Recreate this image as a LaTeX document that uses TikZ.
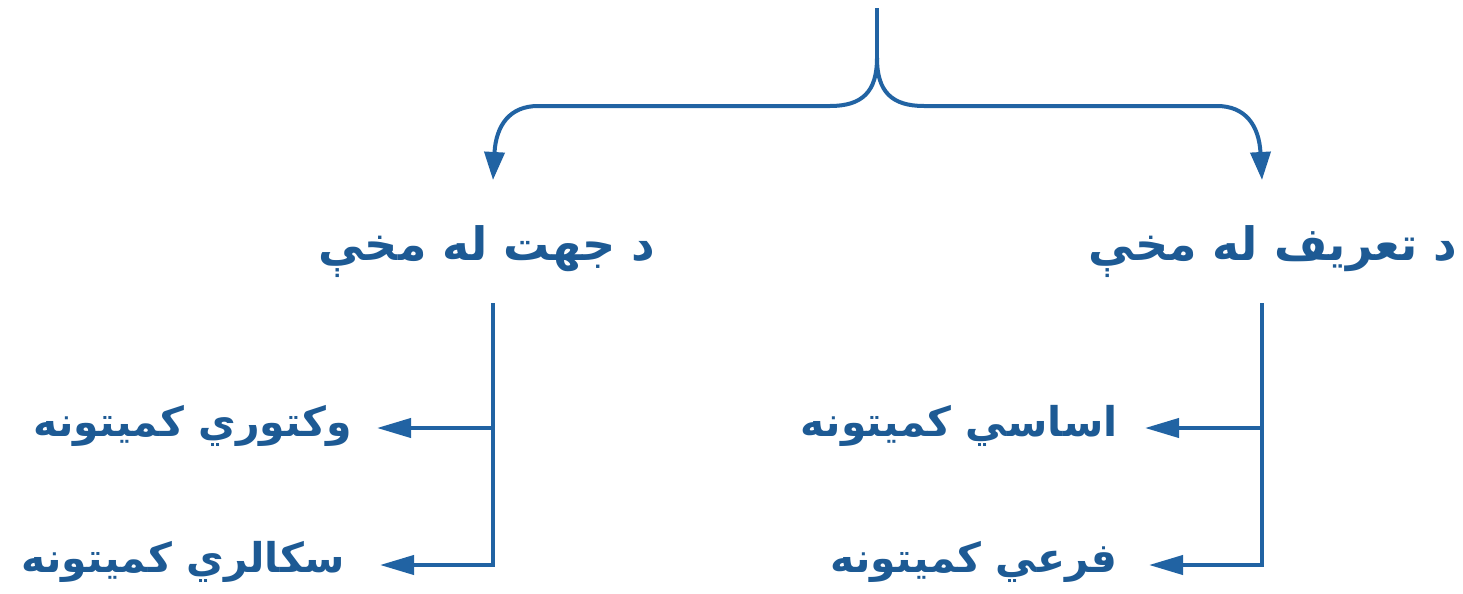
\documentclass[tikz,border=0pt]{standalone}
\usepackage{fontspec}
\usetikzlibrary{arrows.meta}
\TeXXeTstate=1
\newfontfamily\arabicfont[Script=Arabic]{DejaVu Sans}
\definecolor{inkblue}{HTML}{1D5A94}
\definecolor{lineblue}{HTML}{2163A3}
\tikzset{
  heading/.style={font=\arabicfont\bfseries\fontsize{23}{28}\selectfont, text=inkblue, inner sep=0pt},
  item/.style={font=\arabicfont\bfseries\fontsize{20.5}{24}\selectfont, text=inkblue, inner sep=0pt, anchor=east},
  wire/.style={draw=lineblue, line width=2pt},
  bigtip/.style={wire, -{Triangle[length=14pt,width=10pt]}},
  smalltip/.style={wire, -{Triangle[length=17pt,width=9.5pt]}},
}
\begin{document}
\begin{tikzpicture}[x=0.5pt,y=-0.5pt]
  \useasboundingbox (0,0) rectangle (1463,594);
  \fill[white] (0,0) rectangle (1463,594);

  % stem of the brace and its fork point
  \coordinate (stem) at (877,8);
  \coordinate (fork) at (877,58);

  % the two headings
  \node[heading] (dir) at (487,252) {\beginR د جهت له مخې\endR};
  \node[heading, anchor=east] (def) at (1458,252) {\beginR د تعریف له مخې\endR};

  % arrow tips under the brace
  \coordinate (dirtop) at (493,180);
  \coordinate (deftop) at (1262,180);

  % brace
  \draw[wire] (stem) -- (fork);
  \draw[bigtip] (fork) .. controls (877,92) and (862,106) .. (830,106)
     -- (538,106) .. controls (510,106) and (496,125) .. (dirtop);
  \draw[bigtip] (fork) .. controls (877,92) and (892,106) .. (924,106)
     -- (1217,106) .. controls (1245,106) and (1259,125) .. (deftop);

  % branch spines and the joints on them
  \coordinate (dtop) at (493,303);
  \coordinate (dmid) at (493,428);
  \coordinate (dbot) at (493,565);
  \coordinate (ttop) at (1262,303);
  \coordinate (tmid) at (1262,428);
  \coordinate (tbot) at (1262,565);

  % leaf items
  \node[item] (vec) at (352,426) {\beginR وکتوري کمیتونه\endR};
  \node[item] (sca) at (345,562) {\beginR سکالري کمیتونه\endR};
  \node[item] (bas) at (1118,426) {\beginR اساسي کمیتونه\endR};
  \node[item] (der) at (1118,562) {\beginR فرعي کمیتونه\endR};

  % free ends of the branch arrows, just right of each item
  \coordinate (vectip) at (377,428);
  \coordinate (scatip) at (380,565);
  \coordinate (bastip) at (1145,428);
  \coordinate (dertip) at (1149,565);

  \draw[smalltip] (dtop) -- (dbot) -- (scatip);
  \draw[smalltip] (ttop) -- (tbot) -- (dertip);
  \draw[smalltip] (dmid) -- (vectip);
  \draw[smalltip] (tmid) -- (bastip);
\end{tikzpicture}
\end{document}
